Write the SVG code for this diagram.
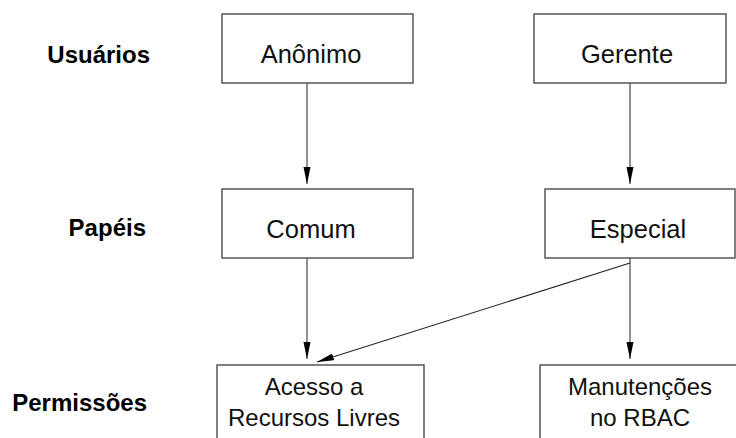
<svg xmlns="http://www.w3.org/2000/svg" width="736" height="438" viewBox="0 0 736 438">
  <style>
    .box { fill: #ffffff; stroke: #4a4a4a; stroke-width: 1.4; }
    .lbl { font-family: "Liberation Sans", Arial, sans-serif; font-size: 25.5px; fill: #111; text-anchor: middle; }
    .lbl2 { font-family: "Liberation Sans", Arial, sans-serif; font-size: 24px; fill: #111; text-anchor: middle; }
    .row { font-family: "Liberation Sans", Arial, sans-serif; font-size: 24px; font-weight: bold; fill: #000; text-anchor: end; }
    .edge { stroke: #555; stroke-width: 1.3; fill: none; marker-end: url(#arrow); }
    .edge-d { stroke: #222; stroke-width: 1.1; fill: none; marker-end: url(#arrow); }
  </style>
  <defs>
    <marker id="arrow" markerUnits="userSpaceOnUse" markerWidth="18" markerHeight="8" refX="17" refY="3.5" orient="auto">
      <path d="M0,0 L17,3.5 L0,7 Z" fill="#000"/>
    </marker>
  </defs>
  <rect width="736" height="438" fill="#ffffff"/>

  <!-- row titles -->
  <g id="row-titles">
    <text class="row" x="150" y="63">Usuários</text>
    <text class="row" x="146" y="236">Papéis</text>
    <text class="row" x="147" y="411">Permissões</text>
  </g>

  <!-- connectors -->
  <g id="connectors">
    <line class="edge" x1="307" y1="83" x2="307" y2="184"/>
    <line class="edge" x1="630" y1="83" x2="630" y2="184"/>
    <line class="edge" x1="307" y1="258" x2="307" y2="359"/>
    <line class="edge" x1="630" y1="258" x2="630" y2="359"/>
    <line class="edge-d" x1="630" y1="263" x2="317" y2="362"/>
  </g>

  <!-- users -->
  <g id="anonimo">
    <rect class="box" x="222" y="14" width="191" height="69"/>
    <text class="lbl" x="311" y="63">Anônimo</text>
  </g>
  <g id="gerente">
    <rect class="box" x="534" y="14" width="192" height="69"/>
    <text class="lbl" x="627" y="63">Gerente</text>
  </g>

  <!-- roles -->
  <g id="comum">
    <rect class="box" x="222" y="189" width="191" height="69"/>
    <text class="lbl" x="311" y="238">Comum</text>
  </g>
  <g id="especial">
    <rect class="box" x="545" y="189" width="190" height="69"/>
    <text class="lbl" x="638" y="238">Especial</text>
  </g>

  <!-- permissions -->
  <g id="acesso">
    <rect class="box" x="217" y="365" width="207" height="80"/>
    <text class="lbl2" x="314" y="395">Acesso a</text>
    <text class="lbl2" x="314" y="426">Recursos Livres</text>
  </g>
  <g id="manutencoes">
    <rect class="box" x="540" y="365" width="205" height="80"/>
    <text class="lbl2" x="640" y="395">Manutenções</text>
    <text class="lbl2" x="640" y="426">no RBAC</text>
  </g>
</svg>
